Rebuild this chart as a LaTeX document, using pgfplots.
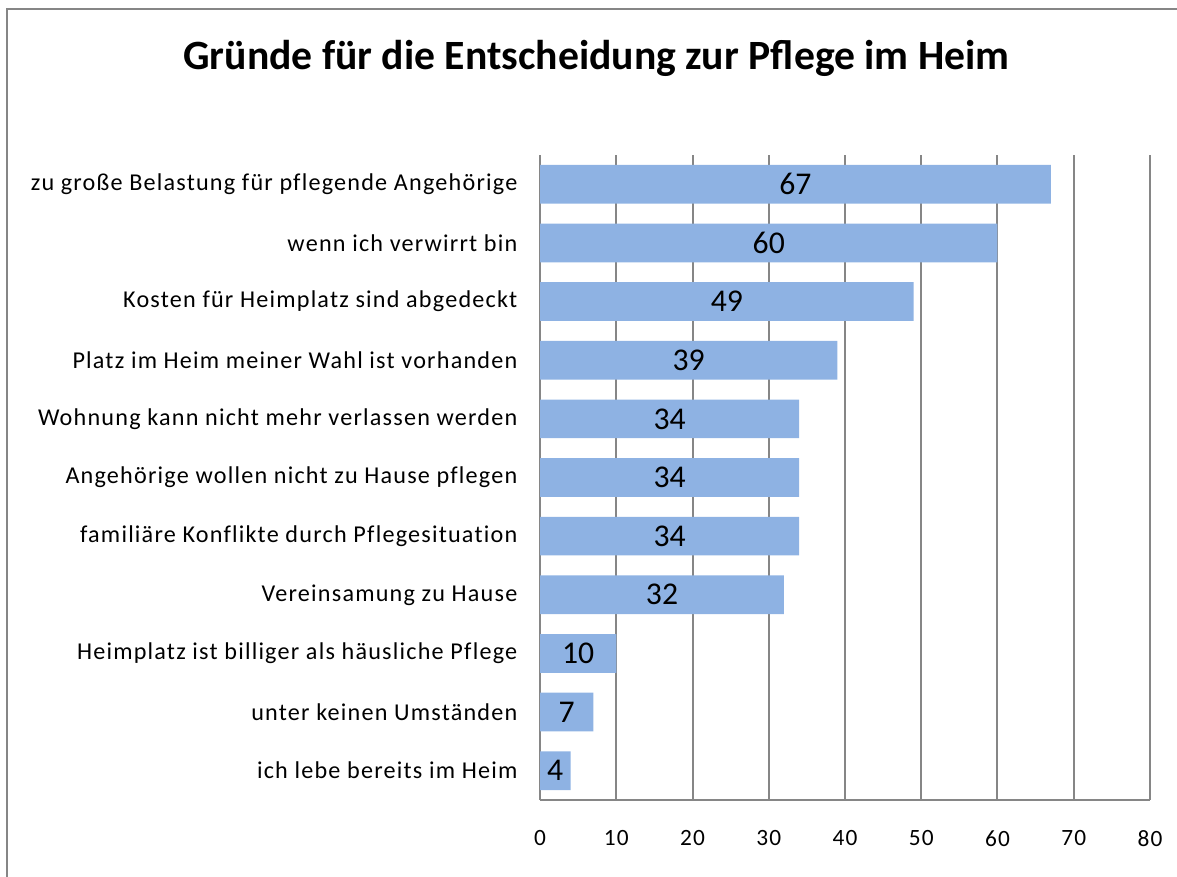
\documentclass[border=0pt]{standalone}
\usepackage{pgfplots}
\pgfplotsset{compat=1.18}
\usepackage{pgfplotstable}
\usepackage{fontspec}
\setmainfont{Carlito}
\newfontfamily\lblfont[LetterSpace=5, Ligatures={NoCommon}]{Carlito}
\definecolor{barblue}{RGB}{142,178,227}
\definecolor{gridgray}{RGB}{134,134,134}
\pgfplotstableread{
y v
10 67
9 60
8 49
7 39
6 34
5 34
4 34
3 32
2 10
1 7
0 4
}\data
\begin{document}
\begin{tikzpicture}
\useasboundingbox (0,0) rectangle (706.2pt,526.2pt);
\draw[gridgray, line width=1.2pt] (4.2pt,-10pt) -- (4.2pt,520.8pt) -- (720pt,520.8pt);
\node[anchor=base, font=\fontsize{25}{28}\selectfont\bfseries] at (357.9pt,484.2pt) {Gründe für die Entscheidung zur Pflege im Heim};
\begin{axis}[
  anchor=south west, at={(324pt,46.2pt)},
  width=366pt, height=387pt, scale only axis,
  xmin=0, xmax=80, ymin=-0.5, ymax=10.5,
  xtick={0,10,...,80},
  ytick={0,...,10},
  yticklabels={ich lebe bereits im Heim, unter keinen Umständen, Heimplatz ist billiger als häusliche Pflege, Vereinsamung zu Hause, familiäre Konflikte durch Pflegesituation, Angehörige wollen nicht zu Hause pflegen, Wohnung kann nicht mehr verlassen werden, Platz im Heim meiner Wahl ist vorhanden, Kosten für Heimplatz sind abgedeckt, wenn ich verwirrt bin, zu große Belastung für pflegende Angehörige},
  axis x line*=bottom, axis y line*=left,
  axis line style={gridgray, line width=1.2pt, -},
  xmajorgrids, grid style={gridgray, line width=1.2pt},
  major tick length=0pt,
  /pgf/number format/assume math mode=true,
  xticklabel style={font=\lblfont\fontsize{14}{16}\selectfont, inner sep=0pt, yshift=-18.2pt},
  yticklabel style={font=\lblfont\fontsize{14.5}{16}\selectfont, inner sep=0pt, xshift=-13.4pt},
  clip=false,
]
\addplot[xbar, bar width=0.66, fill=barblue, draw=none] table[x=v, y=y] {\data};
\addplot[draw=none, mark=none, nodes near coords, point meta=explicit symbolic,
  nodes near coords style={anchor=center, font=\fontsize{19}{21}\selectfont, inner sep=0pt}]
  table[x expr=\thisrow{v}/2, y=y, meta=v] {\data};
\end{axis}
\end{tikzpicture}
\end{document}
